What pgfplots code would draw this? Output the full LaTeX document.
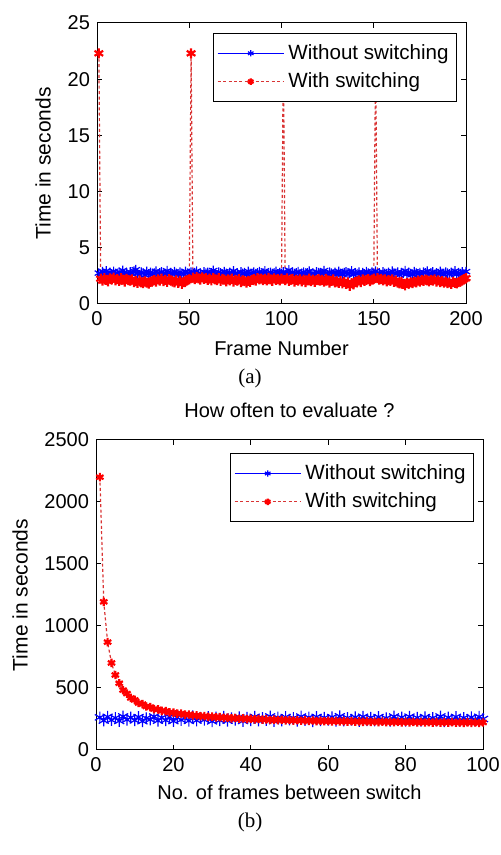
\documentclass[border=0pt]{standalone}
\usepackage{pgfplots}
\pgfplotsset{compat=1.18}
\usepackage{fontspec}
\setmainfont{Liberation Sans}
\newfontfamily\capfont{Liberation Serif}
\pgfplotstableread{
x y
1 2.75
2 2.62
3 2.88
4 2.70
5 2.95
6 2.58
7 2.81
8 2.67
9 2.90
10 2.73
11 2.60
12 2.84
13 2.71
14 2.99
15 2.65
16 2.78
17 2.55
18 2.86
19 2.69
20 2.93
21 3.05
22 2.72
23 2.61
24 2.83
25 2.76
26 2.57
27 2.89
28 2.68
29 2.80
30 2.63
31 2.74
32 2.91
33 2.59
34 2.77
35 2.85
36 2.66
37 2.70
38 2.96
39 2.62
40 2.79
41 2.68
42 2.87
43 2.73
44 2.56
45 2.82
46 2.71
47 2.64
48 2.90
49 2.75
50 2.69
51 2.84
52 2.60
53 2.78
54 2.93
55 2.67
56 2.72
57 2.58
58 2.86
59 2.74
60 2.81
61 2.63
62 2.77
63 2.98
64 2.70
65 2.59
66 2.83
67 2.76
68 2.65
69 2.88
70 2.72
71 2.61
72 2.80
73 2.69
74 2.94
75 2.66
76 2.75
77 2.57
78 2.85
79 2.71
80 2.78
81 2.64
82 2.90
83 2.73
84 2.68
85 2.82
86 2.60
87 2.77
88 2.87
89 2.62
90 2.74
91 2.95
92 2.70
93 2.66
94 2.81
95 2.58
96 2.76
97 2.89
98 2.67
99 2.79
100 2.72
101 2.85
102 2.63
103 2.74
104 3.02
105 2.69
106 2.80
107 2.61
108 2.76
109 2.88
110 2.65
111 2.71
112 2.83
113 2.59
114 2.77
115 2.92
116 2.68
117 2.74
118 2.62
119 2.86
120 2.79
121 2.66
122 2.73
123 2.97
124 2.70
125 2.58
126 2.84
127 2.75
128 2.64
129 2.81
130 2.69
131 2.90
132 2.72
133 2.61
134 2.78
135 2.86
136 2.67
137 2.73
138 2.95
139 2.63
140 2.76
141 2.70
142 2.82
143 2.57
144 2.79
145 2.68
146 2.88
147 2.74
148 2.62
149 2.83
150 2.71
151 2.93
152 2.66
153 2.77
154 2.60
155 2.85
156 2.73
157 2.69
158 2.80
159 2.64
160 2.91
161 2.75
162 2.67
163 2.84
164 2.59
165 2.78
166 2.72
167 2.96
168 2.65
169 2.81
170 2.70
171 2.62
172 2.87
173 2.74
174 2.68
175 2.79
176 2.58
177 2.83
178 2.76
179 2.93
180 2.66
181 2.71
182 2.85
183 2.63
184 2.77
185 2.69
186 2.90
187 2.73
188 2.61
189 2.82
190 2.75
191 2.67
192 2.80
193 2.72
194 2.94
195 2.64
196 2.78
197 2.70
198 2.86
199 2.62
200 2.88
}\blueA
\pgfplotstableread{
x y
1 22.3
2 2.25
3 2.08
4 2.31
5 2.14
6 2.02
7 2.27
8 2.19
9 2.35
10 2.11
11 2.22
12 2.05
13 2.29
14 2.16
15 1.98
16 2.24
17 2.12
18 2.07
19 2.20
20 1.95
21 2.03
22 1.88
23 2.10
24 1.93
25 1.85
26 2.01
27 1.91
28 1.82
29 1.97
30 2.06
31 2.13
32 1.99
33 2.18
34 2.08
35 2.26
36 2.04
37 2.15
38 1.96
39 2.21
40 2.09
41 2.00
42 1.92
43 2.11
44 1.87
45 2.05
46 1.80
47 1.94
48 2.07
49 2.13
50 2.19
51 22.3
52 2.34
53 2.21
54 2.40
55 2.28
56 2.17
57 2.36
58 2.24
59 2.31
60 2.15
61 2.26
62 2.09
63 2.33
64 2.20
65 2.12
66 2.29
67 2.05
68 2.23
69 2.16
70 2.02
71 2.18
72 2.10
73 2.25
74 1.99
75 2.14
76 2.07
77 2.21
78 1.95
79 2.11
80 2.03
81 1.90
82 2.06
83 1.97
84 2.15
85 2.22
86 2.08
87 2.30
88 2.19
89 2.26
90 2.13
91 2.24
92 2.11
93 2.32
94 2.18
95 2.06
96 2.27
97 2.15
98 2.21
99 2.09
100 2.25
101 22.3
102 2.12
103 2.28
104 2.05
105 2.19
106 2.23
107 1.98
108 2.14
109 2.08
110 2.20
111 2.02
112 2.16
113 1.94
114 2.10
115 2.25
116 2.04
117 2.17
118 1.96
119 2.12
120 2.21
121 2.07
122 2.15
123 1.99
124 2.23
125 2.09
126 1.91
127 2.05
128 2.18
129 1.93
130 2.00
131 1.88
132 2.04
133 1.84
134 1.97
135 1.79
136 1.92
137 1.62
138 1.86
139 1.75
140 1.95
141 2.02
142 2.11
143 1.94
144 2.19
145 2.06
146 2.14
147 2.22
148 2.03
149 2.17
150 2.25
151 22.3
152 2.30
153 2.16
154 2.24
155 2.09
156 2.19
157 2.01
158 2.13
159 2.06
160 2.20
161 1.97
162 2.08
163 1.90
164 1.84
165 1.96
166 1.78
167 1.65
168 1.88
169 1.81
170 1.93
171 1.86
172 2.00
173 1.92
174 2.07
175 1.98
176 2.12
177 2.05
178 2.16
179 2.09
180 2.02
181 2.14
182 2.07
183 2.19
184 2.00
185 2.11
186 1.95
187 2.04
188 1.89
189 1.98
190 1.85
191 1.92
192 1.80
193 1.96
194 1.87
195 1.83
196 1.94
197 2.01
198 2.10
199 2.22
200 2.30
}\redA
\pgfplotstableread{
x y
1 263
2 237
3 268
4 241
5 259
6 234
7 271
8 244
9 262
10 239
11 266
12 232
13 257
14 245
15 270
16 236
17 261
18 240
19 267
20 233
21 264
22 242
23 258
24 235
25 272
26 238
27 260
28 243
29 266
30 231
31 263
32 239
33 269
34 236
35 257
36 244
37 265
38 234
39 261
40 240
41 268
42 237
43 259
44 242
45 271
46 233
47 262
48 238
49 266
50 245
51 258
52 236
53 270
54 241
55 263
56 232
57 267
58 239
59 260
60 243
61 265
62 235
63 272
64 238
65 259
66 244
67 264
68 233
69 268
70 240
71 261
72 237
73 266
74 242
75 257
76 234
77 270
78 239
79 263
80 236
81 269
82 241
83 260
84 235
85 265
86 243
87 258
88 238
89 271
90 232
91 262
92 240
93 267
94 236
95 259
96 244
97 264
98 237
99 268
100 250
}\blueB
\pgfplotstableread{
x y
1 2200
2 1195
3 870
4 702
5 605
6 538
7 483
8 455
9 420
10 404
11 379
12 370
13 351
14 346
15 330
16 328
17 316
18 314
19 303
20 302
21 293
22 294
23 285
24 286
25 278
26 279
27 272
28 273
29 267
30 269
31 263
32 265
33 259
34 261
35 255
36 258
37 252
38 255
39 249
40 252
41 247
42 250
43 245
44 247
45 242
46 245
47 241
48 244
49 239
50 242
51 237
52 240
53 236
54 239
55 234
56 238
57 233
58 236
59 232
60 235
61 231
62 234
63 230
64 233
65 229
66 232
67 228
68 231
69 227
70 231
71 226
72 230
73 225
74 229
75 225
76 228
77 224
78 228
79 223
80 227
81 223
82 226
83 222
84 226
85 222
86 225
87 221
88 225
89 220
90 224
91 220
92 224
93 220
94 223
95 219
96 223
97 219
98 222
99 218
100 222
}\redB
\definecolor{mblue}{rgb}{0,0,1}
\definecolor{mred}{rgb}{1,0,0}
\definecolor{dred}{rgb}{0.85,0.2,0.2}
\begin{document}
\begin{tikzpicture}
\path[use as bounding box] (0,0) rectangle (250.5pt,427.5pt);
\pgfplotsset{
  mystyle/.style={
    scale only axis,
    anchor=south west,
    tick align=inside,
    major tick length=2.5pt,
    font=\fontsize{10}{12}\selectfont,
    /pgf/number format/assume math mode=true,
    /pgf/number format/1000 sep={},
    scaled ticks=false,
    axis line style={black, line width=0.5pt},
    every tick/.style={black, line width=0.5pt},
    legend style={draw=black, line width=0.5pt, fill=white, font=\fontsize{10.3}{12}\selectfont,
      inner xsep=2pt, inner ysep=3.5pt, row sep=1.2pt,
      legend cell align=left, anchor=north east},
    legend image code/.code={\draw[mark size=1.6pt, mark repeat=2,mark phase=2] plot coordinates {(0cm,0cm) (0.58cm,0cm) (1.16cm,0cm)};},
  }
}
\begin{axis}[mystyle,
  at={(48.5pt,275.5pt)}, width=184.5pt, height=140.5pt,
  xmin=0, xmax=200, ymin=0, ymax=25,
  xtick={0,50,100,150,200}, ytick={0,5,10,15,20,25},
  xlabel={Frame Number}, ylabel={Time in seconds},
  xlabel style={at={([yshift=-22pt]axis description cs:0.5,0)}, anchor=center},
  ylabel style={at={([xshift=-27pt]axis description cs:0,0.5)}, anchor=center, font=\fontsize{10.5}{12}\selectfont},
  legend style={at={(0.976,0.965)}},
]
\addplot[mblue, line width=0.4pt, mark=asterisk, mark size=2.4pt, mark options={solid, line width=0.6pt}] table {\blueA};
\addlegendentry{Without switching}
\addplot[dred, line width=0.6pt, dash pattern=on 1.5pt off 1.2pt, mark=asterisk, mark size=2.5pt, mark options={solid, mred, line width=1.1pt}] table {\redA};
\addlegendentry{With switching}
\end{axis}
\begin{axis}[mystyle,
  at={(48pt,52.5pt)}, width=193.5pt, height=155pt,
  xmin=0, xmax=100, ymin=0, ymax=2500,
  xtick={0,20,40,60,80,100}, ytick={0,500,1000,1500,2000,2500},
  xlabel={No. of frames between switch}, ylabel={Time in seconds},
  xlabel style={at={([yshift=-21pt]axis description cs:0.5,0)}, anchor=center},
  ylabel style={at={([xshift=-38pt]axis description cs:0,0.5)}, anchor=center, font=\fontsize{10.5}{12}\selectfont},
  title={How often to evaluate ?},
  title style={at={([yshift=9pt]axis description cs:0.5,1)}, anchor=center},
  legend style={at={(0.977,0.958)}},
]
\addplot[mblue, line width=0.4pt, mark=asterisk, mark size=2.9pt, mark options={solid, line width=0.6pt}] table {\blueB};
\addlegendentry{Without switching}
\addplot[dred, line width=0.6pt, dash pattern=on 1.5pt off 1.2pt, mark=asterisk, mark size=2.1pt, mark options={solid, mred, line width=1.1pt}] table {\redB};
\addlegendentry{With switching}
\end{axis}
\node[font=\capfont\fontsize{10.5}{12}\selectfont] at (125pt,238.5pt) {(a)};
\node[font=\capfont\fontsize{10.5}{12}\selectfont] at (125pt,16.5pt) {(b)};
\end{tikzpicture}
\end{document}
